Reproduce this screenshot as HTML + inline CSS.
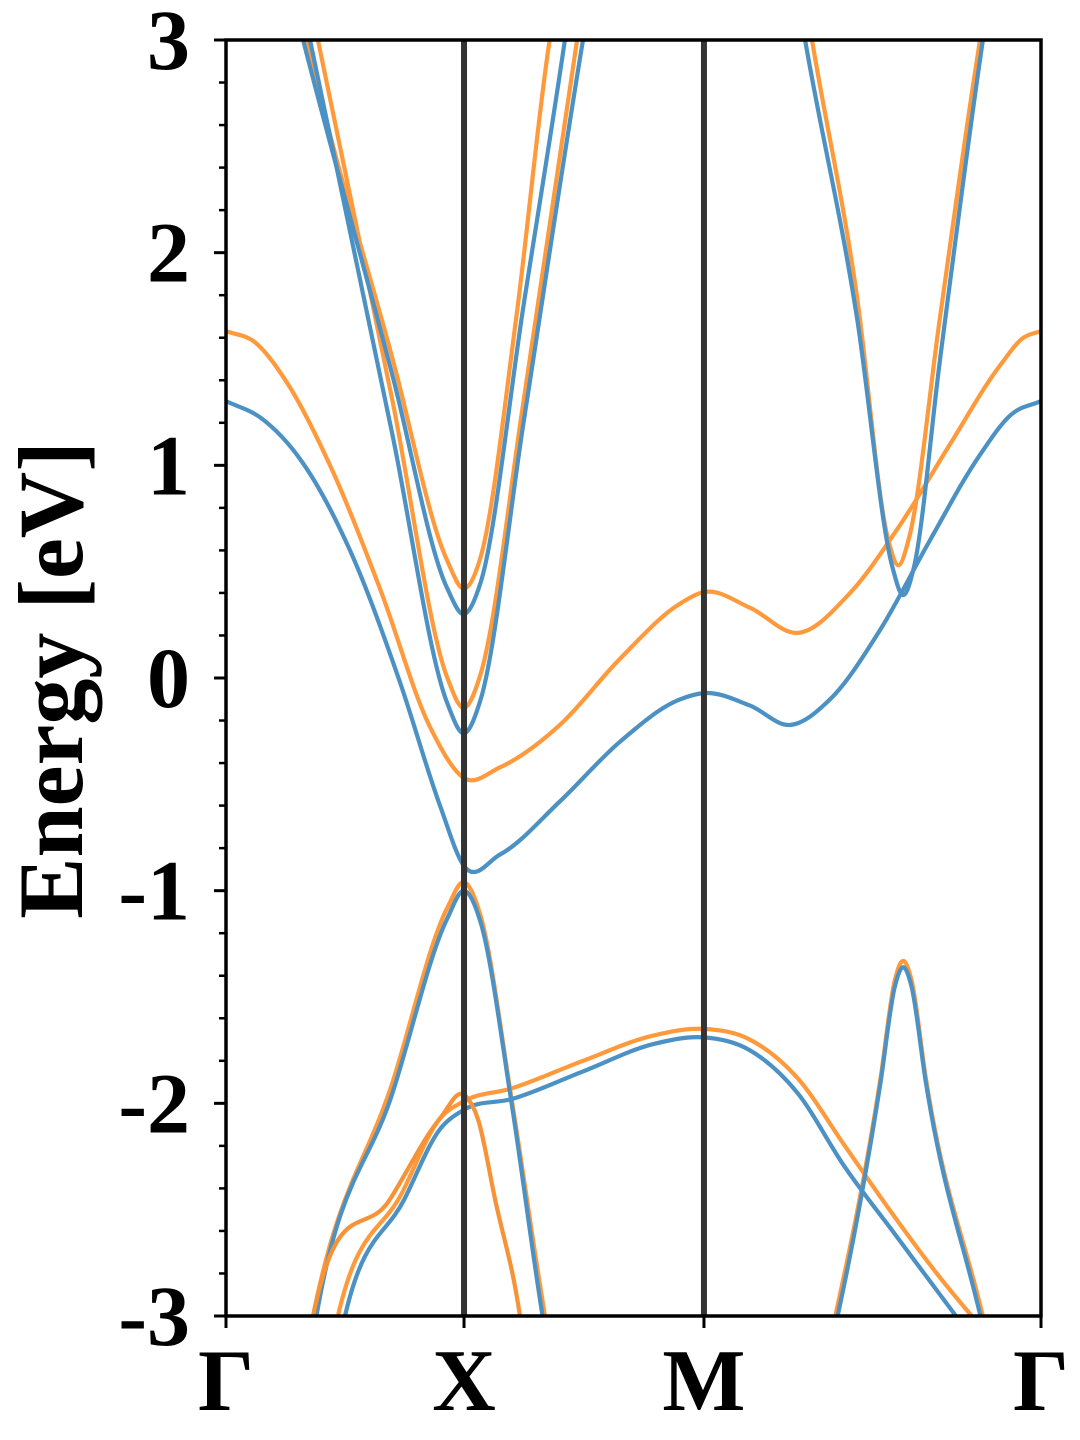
<!DOCTYPE html>
<html><head><meta charset="utf-8"><style>
html,body{margin:0;padding:0;background:#fff}
svg{display:block}
text{font-family:"Liberation Serif",serif;font-weight:bold;fill:#000}
</style></head><body>
<svg id="chart" width="1080" height="1440" viewBox="0 0 1080 1440" xmlns="http://www.w3.org/2000/svg">
<defs><clipPath id="plotclip"><rect x="226" y="40" width="815" height="1276"/></clipPath></defs>
<g id="bands" clip-path="url(#plotclip)"></g>
<g id="axes"></g>
</svg>
<script>
const kLabels = ["Γ","X","M","Γ"];
const kTicks = [0, 1, 2.008, 3.424];
const yTicks = [3,2,1,0,-1,-2,-3];
const yTickLabels = ["3","2","1","0","-1","-2","-3"];
const blueBand1 = [[0,1.302],[0.15,1.22],[0.311,1.03],[0.521,0.60],[0.731,-0.02],[0.899,-0.60],[1,-0.884],[1.151,-0.83],[1.403,-0.58],[1.655,-0.30],[1.908,-0.10],[2.008,-0.071],[2.202,-0.13],[2.37,-0.221],[2.538,-0.10],[2.748,0.226],[2.958,0.649],[3.168,1.05],[3.3,1.24],[3.424,1.302]];
const orangeBand1 = [[0,1.631],[0.12,1.58],[0.25,1.40],[0.437,1.00],[0.647,0.42],[0.857,-0.23],[1,-0.47],[1.151,-0.42],[1.403,-0.22],[1.655,0.09],[1.908,0.35],[2.008,0.404],[2.202,0.33],[2.403,0.212],[2.622,0.40],[2.832,0.72],[3.042,1.10],[3.252,1.47],[3.35,1.60],[3.424,1.631]];
const blueV1 = [[0.29,3.15],[0.324,3],[0.7,1.42],[0.93,0.42],[1,0.3],[1.07,0.45],[1.25,1.75],[1.424,3],[1.45,3.2]];
const blueV2 = [[0.32,3.18],[0.353,3],[0.7,1.14],[0.93,-0.12],[1,-0.26],[1.07,-0.1],[1.25,1.2],[1.5,3],[1.53,3.2]];
const orangeV1 = [[0.31,3.15],[0.34,3],[0.7,1.5],[0.93,0.55],[1,0.42],[1.07,0.57],[1.22,1.7],[1.36,3],[1.39,3.2]];
const orangeV2 = [[0.355,3.17],[0.386,3],[0.7,1.3],[0.93,0.0],[1,-0.14],[1.07,0.02],[1.25,1.3],[1.475,3],[1.5,3.2]];
const blueVR = [[2.41,3.15],[2.433,3],[2.65,1.7],[2.8,0.52],[2.845,0.39],[2.89,0.52],[3.0,1.5],[3.18,3],[3.2,3.15]];
const orangeVR = [[2.44,3.15],[2.462,3],[2.65,1.8],[2.78,0.66],[2.824,0.53],[2.87,0.66],[3.0,1.7],[3.168,3],[3.19,3.15]];
const blueA = [[0.35,-3.2],[0.38,-3.0],[0.7,-1.95],[0.93,-1.13],[1,-1.0],[1.07,-1.15],[1.2,-2.0],[1.33,-3.0],[1.36,-3.2]];
const orangeA = [[0.34,-3.15],[0.366,-3],[0.7,-1.9],[0.93,-1.08],[1,-0.96],[1.07,-1.12],[1.2,-1.98],[1.34,-3],[1.37,-3.2]];
const orangeB = [[0.34,-3.15],[0.366,-3],[0.69,-2.45],[0.9,-2.07],[1,-1.96],[1.06,-2.08],[1.13,-2.45],[1.235,-3],[1.26,-3.2]];
const blueC = [[0.48,-3.1],[0.5,-3],[0.75,-2.45],[0.9,-2.12],[1,-2.03],[1.2,-1.98],[1.5,-1.85],[1.8,-1.72],[2.008,-1.69],[2.2,-1.75],[2.4,-1.95],[2.6,-2.3],[2.8,-2.6],[3.0,-2.9],[3.1,-3.05]];
const orangeC = [[0.45,-3.1],[0.47,-3],[0.74,-2.42],[0.9,-2.07],[1,-1.99],[1.2,-1.93],[1.5,-1.8],[1.8,-1.68],[2.008,-1.65],[2.2,-1.7],[2.4,-1.88],[2.6,-2.2],[2.8,-2.52],[3.0,-2.82],[3.17,-3.05]];
const blueD = [[2.54,-3.15],[2.56,-3.05],[2.75,-1.9],[2.81,-1.45],[2.845,-1.36],[2.88,-1.45],[2.94,-1.9],[3.18,-3.05],[3.2,-3.15]];
const orangeD = [[2.53,-3.15],[2.55,-3.05],[2.75,-1.88],[2.81,-1.42],[2.845,-1.33],[2.88,-1.42],[2.94,-1.88],[3.19,-3.05],[3.21,-3.15]];

const X0=226,X1=1041,Y0=40,Y1=1316,KMAX=3.424,EMIN=-3,EMAX=3;
function sx(k){return X0+(k/KMAX)*(X1-X0);}
function sy(e){return Y1-(e-EMIN)/(EMAX-EMIN)*(Y1-Y0);}
const NS="http://www.w3.org/2000/svg";
function mk(tag,attrs,parent){const el=document.createElementNS(NS,tag);for(const a in attrs)el.setAttribute(a,attrs[a]);parent.appendChild(el);return el;}
function pathFor(pts){
  const p=pts.map(d=>[sx(d[0]),sy(d[1])]);
  const n=p.length,h=[],d=[],m=[];
  for(let i=0;i<n-1;i++){h[i]=p[i+1][0]-p[i][0];d[i]=(p[i+1][1]-p[i][1])/h[i];}
  m[0]=d[0];m[n-1]=d[n-2];
  for(let i=1;i<n-1;i++){m[i]=(d[i-1]*h[i]+d[i]*h[i-1])/(h[i-1]+h[i]);}
  let s="M"+p[0][0].toFixed(1)+","+p[0][1].toFixed(1);
  for(let i=0;i<n-1;i++){
    const c1x=p[i][0]+h[i]/3,c1y=p[i][1]+m[i]*h[i]/3;
    const c2x=p[i+1][0]-h[i]/3,c2y=p[i+1][1]-m[i+1]*h[i]/3;
    s+="C"+c1x.toFixed(1)+","+c1y.toFixed(1)+" "+c2x.toFixed(1)+","+c2y.toFixed(1)+" "+p[i+1][0].toFixed(1)+","+p[i+1][1].toFixed(1);
  }
  return s;
}
const bandsG=document.getElementById('bands');
const axesG=document.getElementById('axes');
const orangeSet=[orangeBand1,orangeV1,orangeV2,orangeVR,orangeA,orangeC,orangeD];
const blueSet=[blueBand1,blueV1,blueV2,blueVR,blueA,blueC,blueD];
orangeSet.forEach((b,i)=>{
  const el=mk('path',{d:pathFor(b),fill:'none',stroke:'#ff9a3c','stroke-width':4.2},bandsG);
  
  
});
blueSet.forEach((b,i)=>{
  const el=mk('path',{d:pathFor(b),fill:'none',stroke:'#4b91c4','stroke-width':4.2},bandsG);
  
  
});
const ob=mk('path',{d:pathFor(orangeB),fill:'none',stroke:'#f79237','stroke-width':4.2},bandsG);


[kTicks[1],kTicks[2]].forEach((k,i)=>{
  const el=mk('line',{x1:sx(k),x2:sx(k),y1:Y0,y2:Y1,stroke:'#333','stroke-width':6},axesG);
  
  
});
const fr=mk('rect',{x:X0,y:Y0,width:X1-X0,height:Y1-Y0,fill:'none',stroke:'#000','stroke-width':3.5},axesG);


yTicks.forEach((v,i)=>{
  const y=sy(v);
  const t=mk('line',{x1:X0,x2:X0-12,y1:y,y2:y,stroke:'#000','stroke-width':3},axesG);
  
  
  const tx=mk('text',{x:190,y:y+29,'text-anchor':'end','font-size':86},axesG);
  tx.textContent=yTickLabels[i];
  
  
});
for(let m=-14;m<=14;m++){
  if(m%5===0)continue;
  const y=sy(m*0.2);
  const t=mk('line',{x1:X0,x2:X0-7,y1:y,y2:y,stroke:'#000','stroke-width':2.5},axesG);
  
  
}
kTicks.forEach((k,i)=>{
  const x=sx(k);
  const t=mk('line',{x1:x,x2:x,y1:Y1,y2:Y1+12,stroke:'#000','stroke-width':3},axesG);
  
  
  const tx=mk('text',{x:x,y:1410,'text-anchor':'middle','font-size':88},axesG);
  tx.textContent=kLabels[i];
  
  
});
const yl=mk('text',{x:0,y:0,'text-anchor':'middle','font-size':92,transform:'translate(82,680) rotate(-90)'},axesG);
yl.textContent='Energy [eV]';


</script>
</body></html>
